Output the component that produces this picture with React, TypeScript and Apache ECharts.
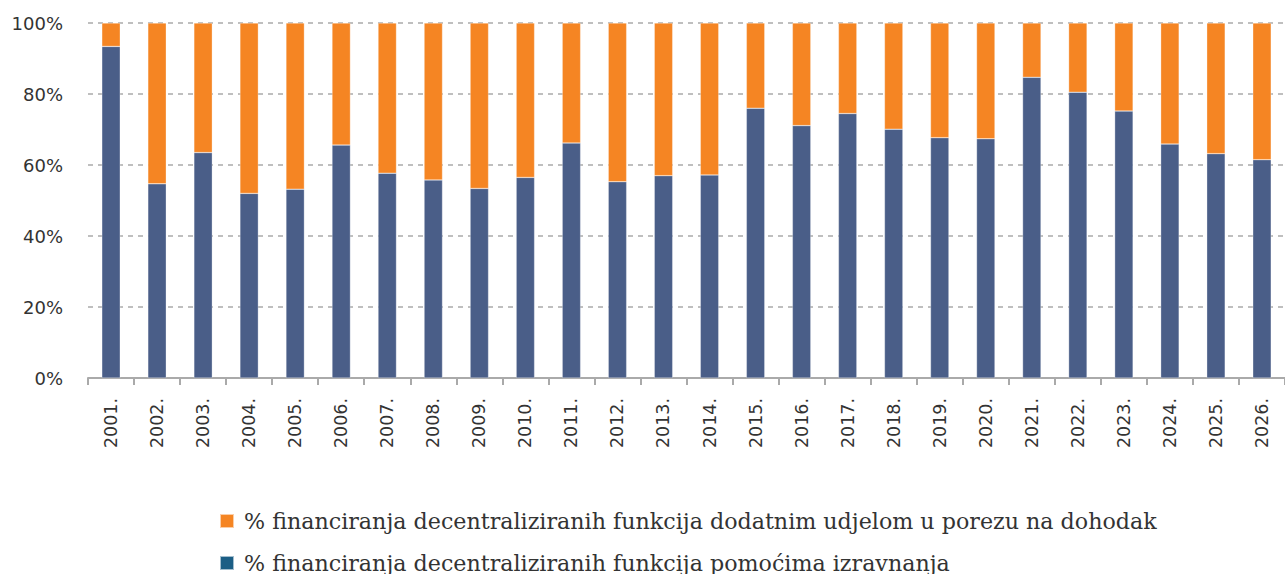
import React, { useEffect, useRef } from "react";
import * as echarts from "echarts";

const years = ["2001.", "2002.", "2003.", "2004.", "2005.", "2006.", "2007.", "2008.", "2009.", "2010.", "2011.", "2012.", "2013.", "2014.", "2015.", "2016.", "2017.", "2018.", "2019.", "2020.", "2021.", "2022.", "2023.", "2024.", "2025.", "2026."];
const blueValues = [93.4, 54.7, 63.5, 52.0, 53.2, 65.6, 57.7, 55.8, 53.4, 56.5, 66.2, 55.3, 57.0, 57.2, 76.0, 71.1, 74.5, 70.1, 67.7, 67.4, 84.7, 80.5, 75.2, 65.9, 63.2, 61.5];
const orangeValues = [6.6, 45.3, 36.5, 48.0, 46.8, 34.4, 42.3, 44.2, 46.6, 43.5, 33.8, 44.7, 43.0, 42.8, 24.0, 28.9, 25.5, 29.9, 32.3, 32.6, 15.3, 19.5, 24.8, 34.1, 36.8, 38.5];
const orangeName = "% financiranja decentraliziranih funkcija dodatnim udjelom u porezu na dohodak";
const blueName = "% financiranja decentraliziranih funkcija pomoćima izravnanja";

export default function App() {
  const ref = useRef<HTMLDivElement>(null);
  useEffect(() => {
    if (!ref.current) return;
    document.body.style.overflow = "hidden";
    const chart = echarts.init(ref.current, null, { renderer: "svg" });
    chart.setOption({
      animation: false,
      grid: { left: 88, right: 0, top: 23, bottom: 196, containLabel: false },
      legend: {
        orient: "vertical",
        left: 219,
        top: 510,
        height: 200,
        padding: 0,
        itemWidth: 14,
        itemHeight: 14,
        itemGap: 20,
        icon: "rect",
        textStyle: { fontFamily: "DejaVu Serif", fontSize: 22.2, lineHeight: 22, color: "#333", padding: [0, 0, 0, 5] },
        data: [
          { name: orangeName, itemStyle: { color: "#F58523" } },
          { name: blueName, itemStyle: { color: "#1C5E85" } },
        ],
      },
      xAxis: {
        type: "category",
        data: years,
        axisLine: { lineStyle: { color: "#AAAAAA", width: 2 } },
        axisTick: { show: true, length: 7, lineStyle: { color: "#AAAAAA", width: 2 } },
        axisLabel: { rotate: 90, fontFamily: "DejaVu Sans", fontSize: 17.5, color: "#333", margin: 20 },
      },
      yAxis: {
        type: "value",
        min: 0,
        max: 100,
        interval: 20,
        axisLine: { show: false },
        axisTick: { show: false },
        axisLabel: { formatter: "{value}%", fontFamily: "DejaVu Sans", fontSize: 18, color: "#333", margin: 25 },
        splitLine: { lineStyle: { color: "#AAAAAA", type: [5, 5], width: 1.5 } },
      },
      series: [
        {
          name: blueName,
          type: "bar",
          stack: "s",
          data: blueValues,
          barWidth: "40%",
          itemStyle: { color: "#4A5E88", borderColor: "rgba(255,255,255,0.6)", borderWidth: 0.5 },
        },
        {
          name: orangeName,
          type: "bar",
          stack: "s",
          data: orangeValues,
          barWidth: "40%",
          itemStyle: { color: "#F58523", borderColor: "rgba(255,255,255,0.6)", borderWidth: 0.5 },
        },
      ],
    });
    return () => chart.dispose();
  }, []);
  return <div ref={ref} style={{ position: "absolute", left: 0, top: 0, width: 1285, height: 574 }} />;
}
